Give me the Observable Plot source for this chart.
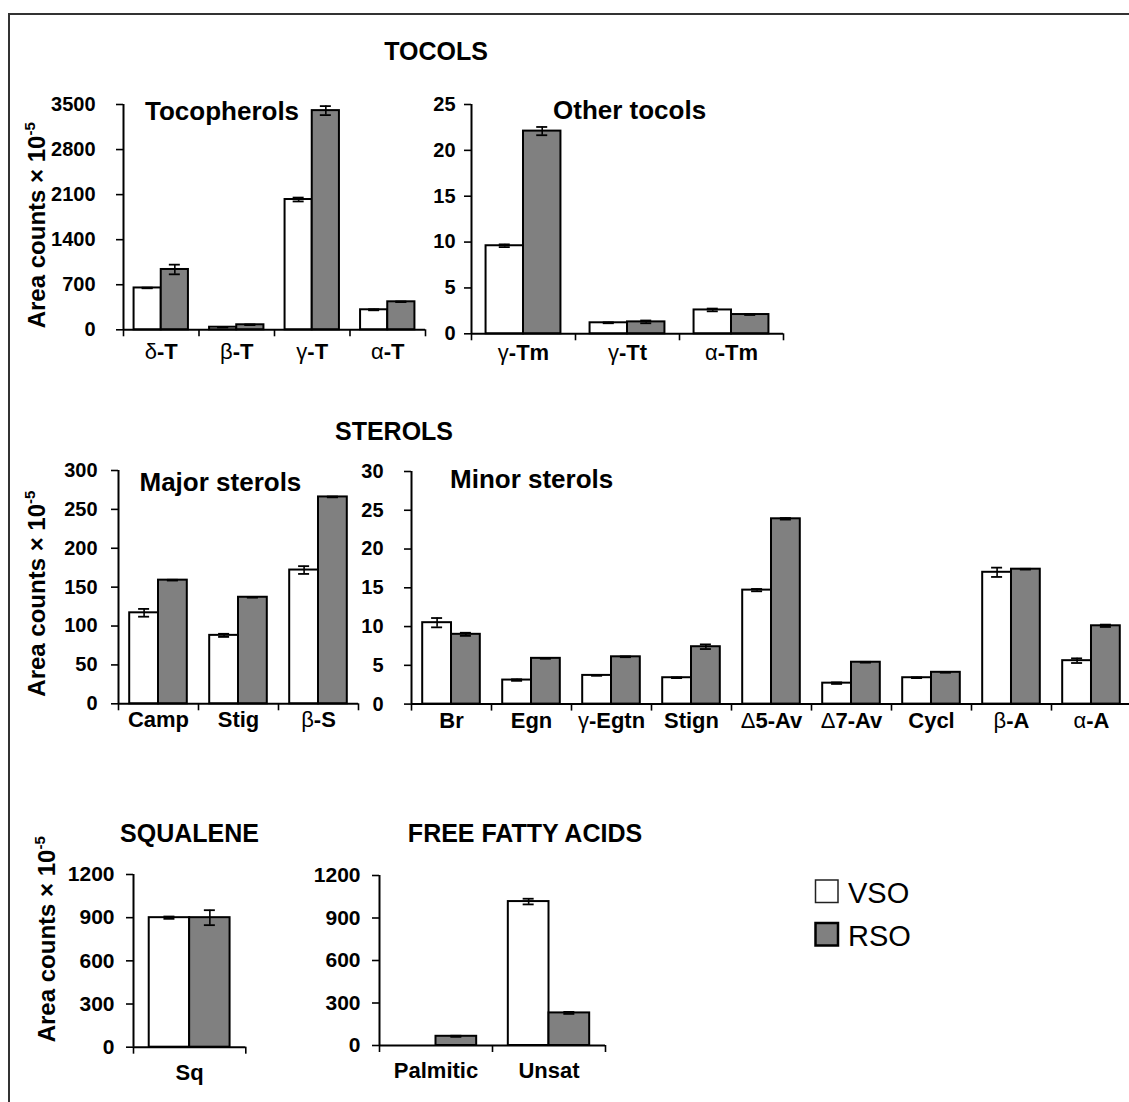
<!DOCTYPE html>
<html>
<head>
<meta charset="utf-8">
<script src="https://cdn.jsdelivr.net/npm/d3@7"></script>
<script src="https://cdn.jsdelivr.net/npm/@observablehq/plot@0.6"></script>
<style>
html,body{margin:0;padding:0;background:#fff;}
#root{position:relative;width:1129px;height:1102px;overflow:hidden;background:#fff;font-family:"Liberation Sans",Arial,Helvetica,sans-serif;}
#frame{position:absolute;left:8px;top:13px;width:1400px;height:1400px;border-left:2px solid #333;border-top:2px solid #333;}
</style>
</head>
<body>
<div id="root"><div id="frame"></div></div>
<script>
// ---------------- DATA ----------------
const series = ["VSO", "RSO"];

const tocoCats = ["δ-T", "β-T", "γ-T", "α-T"];
const tocoVSO = [650, 40, 2024, 311];
const tocoVSOerr = [5, 4, 30, 8];
const tocoRSO = [937, 78, 3405, 435];
const tocoRSOerr = [75, 5, 70, 5];
const tocoTicks = [0, 700, 1400, 2100, 2800, 3500];

const otherCats = ["γ-Tm", "γ-Tt", "α-Tm"];
const otherVSO = [9.6, 1.2, 2.6];
const otherVSOerr = [0.15, 0.05, 0.15];
const otherRSO = [22.1, 1.3, 2.1];
const otherRSOerr = [0.45, 0.15, 0.05];
const otherTicks = [0, 5, 10, 15, 20, 25];

const majorCats = ["Camp", "Stig", "β-S"];
const majorVSO = [117, 88, 172];
const majorVSOerr = [5, 2, 5];
const majorRSO = [159, 137, 266];
const majorRSOerr = [0.5, 0.5, 0.5];
const majorTicks = [0, 50, 100, 150, 200, 250, 300];

const minorCats = ["Br", "Egn", "γ-Egtn", "Stign", "Δ5-Av", "Δ7-Av", "Cycl", "β-A", "α-A"];
const minorVSO = [10.5, 3.1, 3.7, 3.4, 14.7, 2.7, 3.4, 17.0, 5.6];
const minorVSOerr = [0.6, 0.1, 0.05, 0.05, 0.15, 0.1, 0.05, 0.6, 0.3];
const minorRSO = [9.0, 5.9, 6.1, 7.4, 23.9, 5.4, 4.1, 17.4, 10.1];
const minorRSOerr = [0.2, 0.05, 0.05, 0.3, 0.1, 0.05, 0.05, 0.05, 0.15];
const minorTicks = [0, 5, 10, 15, 20, 25, 30];

const sqCats = ["Sq"];
const sqVSO = [900];
const sqVSOerr = [8];
const sqRSO = [900];
const sqRSOerr = [52];
const sqTicks = [0, 300, 600, 900, 1200];

const ffaCats = ["Palmitic", "Unsat"];
const ffaVSO = [0, 1016];
const ffaVSOerr = [0, 20];
const ffaRSO = [65, 230];
const ffaRSOerr = [4, 7];
const ffaTicks = [0, 300, 600, 900, 1200];

// ---------------- STYLE / LAYOUT ----------------
const FONT = '"Liberation Sans", Arial, Helvetica, sans-serif';
const FILL = {VSO: "#ffffff", RSO: "#808080"};
const PAD = 0.14, BW = 0.36;
const root = document.getElementById("root");
const NS = "http://www.w3.org/2000/svg";

function makePanel(cfg) {
  const n = cfg.cats.length;
  const bandPx = (cfg.xEnd - cfg.x0) / n;
  const ml = 90, mr = 10, mt = 20, mb = 60;
  const width = ml + (cfg.xEnd - cfg.x0) + mr;
  const height = mt + (cfg.yZero - cfg.yTop) + mb;
  const rows = [];
  cfg.cats.forEach((c, i) => {
    rows.push({i, s: "VSO", v: cfg.vso[i], e: cfg.vsoErr[i], x1: i + PAD, x2: i + PAD + BW});
    rows.push({i, s: "RSO", v: cfg.rso[i], e: cfg.rsoErr[i], x1: i + PAD + BW, x2: i + PAD + 2 * BW});
  });
  const shown = rows.filter(d => d.v > 0);
  const caps = [];
  shown.forEach(d => { if (d.e > 0) { caps.push({...d, y: d.v - d.e}); caps.push({...d, y: d.v + d.e}); } });
  const capHalf = 5.5 / bandPx;
  const cx = d => (d.x1 + d.x2) / 2;
  const svg = Plot.plot({
    width, height, marginLeft: ml, marginRight: mr, marginTop: mt, marginBottom: mb,
    style: {background: "transparent", fontFamily: FONT, color: "#000", overflow: "visible"},
    x: {type: "linear", domain: [0, n]},
    y: {type: "linear", domain: [0, cfg.yMax]},
    marks: [
      Plot.rectY(shown.filter(d => d.s === "VSO"), {x1: "x1", x2: "x2", y1: d => 0, y2: "v", fill: FILL.VSO, stroke: "#000", strokeWidth: 2}),
      Plot.rectY(shown.filter(d => d.s === "RSO"), {x1: "x1", x2: "x2", y1: d => 0, y2: "v", fill: FILL.RSO, stroke: "#000", strokeWidth: 2}),
      Plot.ruleX(shown.filter(d => d.e > 0), {x: cx, y1: d => d.v - d.e, y2: d => d.v + d.e, stroke: "#000", strokeWidth: 1.6}),
      Plot.ruleY(caps, {y: "y", x1: d => cx(d) - capHalf, x2: d => cx(d) + capHalf, stroke: "#000", strokeWidth: 1.8}),
      Plot.ruleY([0], {stroke: "#000", strokeWidth: 2}),
      Plot.ruleX([0], {stroke: "#000", strokeWidth: 2}),
      Plot.axisY({ticks: cfg.yTicks, tickSize: 7, tickPadding: cfg.tp, tickFormat: d => String(d), fontSize: cfg.yfs || 20, fontWeight: "bold", label: null, strokeWidth: 1.6}),
      Plot.axisX({ticks: d3.range(n + 1), tickSize: 7, tickFormat: () => "", label: null, strokeWidth: 1.6}),
      Plot.axisX({ticks: d3.range(n).map(i => i + 0.5), tickSize: 0, tickPadding: cfg.xp, tickFormat: d => cfg.cats[Math.floor(d)], fontSize: 22, fontWeight: "bold", label: null})
    ]
  });
  svg.style.position = "absolute";
  svg.style.left = (cfg.x0 - ml) + "px";
  svg.style.top = (cfg.yTop - mt) + "px";
  svg.style.maxWidth = "none";
  svg.style.background = "transparent";
  // Greek letters drawn in regular weight, as in the original
  svg.querySelectorAll("text").forEach(t => {
    const s = t.textContent;
    if (/[\u0370-\u03FF]/.test(s) && t.children.length === 0) {
      t.textContent = "";
      s.split(/([\u0370-\u03FF])/).forEach(part => {
        if (!part) return;
        const ts = document.createElementNS(NS, "tspan");
        ts.textContent = part;
        if (/[\u0370-\u03FF]/.test(part)) ts.setAttribute("font-weight", "normal");
        t.appendChild(ts);
      });
    }
  });
  root.appendChild(svg);
}

makePanel({cats: tocoCats, vso: tocoVSO, vsoErr: tocoVSOerr, rso: tocoRSO, rsoErr: tocoRSOerr,
  yMax: 3500, yTicks: tocoTicks, x0: 123.3, xEnd: 425.3, yTop: 104, yZero: 329.3, tp: 21, xp: 14});
makePanel({cats: otherCats, vso: otherVSO, vsoErr: otherVSOerr, rso: otherRSO, rsoErr: otherRSOerr,
  yMax: 25, yTicks: otherTicks, x0: 471, xEnd: 783, yTop: 104, yZero: 333.3, tp: 9, xp: 11});
makePanel({cats: majorCats, vso: majorVSO, vsoErr: majorVSOerr, rso: majorRSO, rsoErr: majorRSOerr,
  yMax: 300, yTicks: majorTicks, x0: 117.7, xEnd: 357.7, yTop: 470, yZero: 703.3, tp: 14, xp: 8});
makePanel({cats: minorCats, vso: minorVSO, vsoErr: minorVSOerr, rso: minorRSO, rsoErr: minorRSOerr,
  yMax: 30, yTicks: minorTicks, x0: 411, xEnd: 1131, yTop: 470.7, yZero: 703.3, tp: 21, xp: 8});
makePanel({cats: sqCats, vso: sqVSO, vsoErr: sqVSOerr, rso: sqRSO, rsoErr: sqRSOerr,
  yMax: 1200, yTicks: sqTicks, x0: 132.7, xEnd: 245, yTop: 874, yZero: 1046.7, tp: 12, xp: 17, yfs: 21});
makePanel({cats: ffaCats, vso: ffaVSO, vsoErr: ffaVSOerr, rso: ffaRSO, rsoErr: ffaRSOerr,
  yMax: 1200, yTicks: ffaTicks, x0: 379, xEnd: 605, yTop: 875, yZero: 1045, tp: 12, xp: 17, yfs: 21});

// ---------------- TITLES, AXIS TITLES, LEGEND ----------------
const titles = [
  {text: "TOCOLS", x: 436, y: 60, anchor: "middle", size: 25},
  {text: "Tocopherols", x: 145, y: 120, anchor: "start", size: 26},
  {text: "Other tocols", x: 553, y: 119, anchor: "start", size: 26},
  {text: "STEROLS", x: 394, y: 440, anchor: "middle", size: 25},
  {text: "Major sterols", x: 139.5, y: 490.5, anchor: "start", size: 26},
  {text: "Minor sterols", x: 450, y: 488, anchor: "start", size: 26},
  {text: "SQUALENE", x: 189.5, y: 841.7, anchor: "middle", size: 25},
  {text: "FREE FATTY ACIDS", x: 525, y: 841.7, anchor: "middle", size: 25}
];
const axisTitles = [{x: 45, y: 328.3}, {x: 45, y: 696.7}, {x: 55, y: 1042.3}];

const ov = document.createElementNS(NS, "svg");
ov.setAttribute("width", 1129);
ov.setAttribute("height", 1102);
ov.style.position = "absolute";
ov.style.left = "0px";
ov.style.top = "0px";
ov.style.pointerEvents = "none";
ov.setAttribute("font-family", FONT);

function txt(parent, str, attrs) {
  const t = document.createElementNS(NS, "text");
  for (const k in attrs) t.setAttribute(k, attrs[k]);
  t.textContent = str;
  parent.appendChild(t);
  return t;
}
titles.forEach(d => txt(ov, d.text, {x: d.x, y: d.y, "text-anchor": d.anchor, "font-size": d.size, "font-weight": "bold", fill: "#000"}));
axisTitles.forEach(d => {
  const t = txt(ov, "Area counts × 10", {transform: `translate(${d.x},${d.y}) rotate(-90)`, "text-anchor": "start", "font-size": 24, "font-weight": "bold", fill: "#000"});
  const sup = document.createElementNS(NS, "tspan");
  sup.setAttribute("font-size", 15);
  sup.setAttribute("dy", -10);
  sup.textContent = "-5";
  t.appendChild(sup);
});
series.forEach((s, k) => {
  const y0 = 880 + k * 43;
  const r = document.createElementNS(NS, "rect");
  r.setAttribute("x", 815.5); r.setAttribute("y", y0);
  r.setAttribute("width", 22.5); r.setAttribute("height", 22.5);
  r.setAttribute("fill", FILL[s]);
  r.setAttribute("stroke", k === 0 ? "#222" : "#000");
  r.setAttribute("stroke-width", k === 0 ? 1.5 : 2.5);
  ov.appendChild(r);
  txt(ov, s, {x: 848, y: y0 + 22.5, "font-size": 29, fill: "#000"});
});
root.appendChild(ov);
</script>
</body>
</html>
